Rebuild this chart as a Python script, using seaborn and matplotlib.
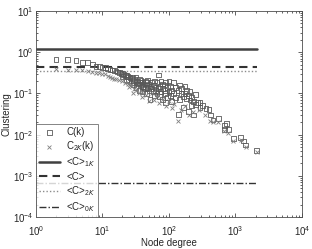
import numpy as np
import pandas as pd
import matplotlib
matplotlib.use("Agg")
import matplotlib.pyplot as plt
import seaborn as sns

# C(k): node degree / clustering pairs
k_c = [2, 3, 4, 5, 6, 7, 8, 9, 10, 11, 12, 13, 14, 15, 16, 17, 18, 19,
       20, 20, 21, 22, 23, 23, 24, 25, 25, 26, 27, 27, 28, 29, 29, 30,
       32, 32, 32, 34, 34, 36, 36, 36, 38, 38, 40, 40, 40, 42, 42, 44, 44,
       46, 46, 46, 48, 48, 50, 50, 52, 52, 55, 55, 58, 58, 60, 60, 63, 63,
       66, 66, 70, 70, 73, 73, 76, 76, 80, 80, 80, 85, 85, 90, 90, 90,
       95, 95, 100, 100, 105, 105, 110, 110, 118, 118, 125, 125, 138, 138,
       145, 145, 155, 155, 165, 165, 174, 174, 185, 185, 199, 199, 207, 207,
       220, 220, 232, 232, 250, 250, 270, 292, 292, 320, 360, 400, 424, 459,
       553, 680, 680, 735, 780, 921, 1200, 1310, 1420, 2090]
c_k = [0.68, 0.66, 0.62, 0.57, 0.55, 0.50, 0.46, 0.44, 0.43, 0.42, 0.39, 0.38, 0.37, 0.36, 0.35, 0.33, 0.32, 0.31,
       0.30, 0.26, 0.29, 0.27, 0.28, 0.22, 0.26, 0.25, 0.20, 0.24, 0.23, 0.18, 0.25, 0.21, 0.16, 0.22,
       0.19, 0.25, 0.14, 0.20, 0.17, 0.18, 0.22, 0.12, 0.16, 0.21, 0.15, 0.19, 0.11, 0.17, 0.14, 0.20, 0.13,
       0.16, 0.18, 0.10, 0.14, 0.21, 0.12, 0.17, 0.072, 0.15, 0.19, 0.13, 0.16, 0.11, 0.20, 0.09, 0.14, 0.12,
       0.18, 0.10, 0.28, 0.13, 0.15, 0.085, 0.20, 0.11, 0.17, 0.13, 0.07, 0.12, 0.16, 0.10, 0.19, 0.06,
       0.14, 0.08, 0.20, 0.11, 0.09, 0.15, 0.12, 0.065, 0.18, 0.10, 0.08, 0.14, 0.031, 0.12,
       0.16, 0.07, 0.10, 0.13, 0.085, 0.045, 0.10, 0.15, 0.12, 0.075, 0.036, 0.09, 0.069, 0.11,
       0.08, 0.05, 0.03, 0.065, 0.095, 0.055, 0.06, 0.061, 0.045, 0.05, 0.044, 0.04, 0.03, 0.0226,
       0.025, 0.017, 0.0135, 0.019, 0.0135, 0.0081, 0.0086, 0.007, 0.0056, 0.0042]

# C_2K(k)
k_2k = [2, 3, 4, 5, 6, 7, 8, 9, 10, 11, 12, 13, 14, 15, 16, 18, 20, 22, 24, 25,
        27, 29, 30, 33, 36, 40, 40, 45, 50, 55, 60, 65, 70, 80, 90, 100, 110,
        120, 135, 150, 175, 200, 230, 280, 350, 420, 460, 550, 680, 780, 920,
        1200, 1420, 2090]
c_2k = [0.39, 0.37, 0.38, 0.36, 0.35, 0.33, 0.32, 0.31, 0.30, 0.29, 0.27, 0.25, 0.24, 0.23, 0.22, 0.21, 0.20, 0.18, 0.17, 0.14,
        0.16, 0.10, 0.13, 0.12, 0.10, 0.11, 0.08, 0.09, 0.065, 0.10, 0.07, 0.085, 0.06, 0.075, 0.05, 0.065, 0.045,
        0.055, 0.022, 0.04, 0.05, 0.03, 0.035, 0.04, 0.03, 0.022, 0.02, 0.02, 0.012, 0.011, 0.007,
        0.0075, 0.005, 0.0038]

# average clustering levels
avg_labels = ["<C>$_{1K}$", "<C>", "<C>$_{2K}$", "<C>$_{0K}$"]
avg_values = [1.2, 0.44, 0.355, 6.6e-4]
line_range = [1, 2090]

sns.set_style("ticks")
plt.rcParams['font.family'] = ['Liberation Sans', 'DejaVu Sans']
plt.rcParams['mathtext.fontset'] = 'custom'
plt.rcParams['mathtext.rm'] = 'Liberation Sans'

fig = plt.figure(figsize=(3.12, 2.49), dpi=100)
ax = fig.add_axes([0.115, 0.128, 0.853, 0.828])

df_c = pd.DataFrame({"k": k_c, "C": c_k})
df_2k = pd.DataFrame({"k": k_2k, "C": c_2k})

sns.scatterplot(data=df_c, x="k", y="C", marker="s", s=12, fc="none",
                ec="0.35", linewidth=0.6, ax=ax, label="C(k)", zorder=3)
sns.scatterplot(data=df_2k, x="k", y="C", marker="x", s=8, color="0.5",
                linewidth=0.6, ax=ax, label="C$_{2K}$(k)", zorder=3)

styles = [dict(ls="-", lw=1.8, color="0.25"),
          dict(ls=(0, (4, 2.5)), lw=1.5, color="0.2"),
          dict(ls=(0, (1, 1.5)), lw=1.0, color="0.55"),
          dict(ls=(0, (5, 1.5, 1, 1.5)), lw=1.0, color="0.2")]
for lab, v, st in zip(avg_labels, avg_values, styles):
    ax.plot(line_range, [v, v], label=lab, **st)

ax.set_xscale("log")
ax.set_yscale("log")
ax.set_xlim(1, 1e4)
ax.set_ylim(1e-4, 10)
ax.set_xlabel("Node degree", fontsize=7, labelpad=0)
ax.set_ylabel("Clustering", fontsize=7, labelpad=1)
ax.tick_params(which="both", direction="in", top=True, right=True, labelsize=7, width=0.5)
ax.tick_params(which="major", length=3, pad=2)
ax.tick_params(axis="x", which="major", pad=5)
ax.tick_params(which="minor", length=1.5)
for sp in ax.spines.values():
    sp.set_linewidth(0.6)
    sp.set_color("0.3")

leg = ax.legend(loc="lower left", fontsize=7, frameon=True, fancybox=False,
                borderaxespad=0, handlelength=2.2, labelspacing=0.25,
                borderpad=0.3, handletextpad=0.6)
leg.get_frame().set_edgecolor("0.3")
leg.get_frame().set_linewidth(0.6)

fig.savefig("out.png", dpi=100)
